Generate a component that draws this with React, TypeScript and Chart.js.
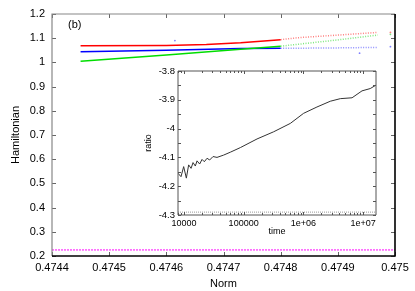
import React, { useEffect, useRef } from 'react';
import { Chart, registerables } from 'chart.js';
Chart.register(...registerables);

const FONT = '"Liberation Sans", Arial, Helvetica, sans-serif';

// ---------- main panel data ----------
const normMin = 0.4744;
const normMax = 0.475;
const hamMin = 0.2;
const hamMax = 1.2;
const panelLabel = '(b)';

const redNorm = [0.47445, 0.4746, 0.47467, 0.47473, 0.4748];
const redHam = [1.069, 1.07, 1.074, 1.081, 1.094];
const redTailNorm = [0.4748, 0.47483, 0.4749, 0.47497];
const redTailHam = [1.094, 1.102, 1.113, 1.124];

const blueNorm = [0.47445, 0.4746, 0.47473, 0.4748];
const blueHam = [1.044, 1.05, 1.057, 1.058];
const blueTailNorm = [0.4748, 0.4749, 0.47497];
const blueTailHam = [1.058, 1.06, 1.062];

const greenNorm = [0.47445, 0.4746, 0.47473, 0.4748];
const greenHam = [1.005, 1.031, 1.054, 1.067];
const greenTailNorm = [0.4748, 0.4749, 0.47497];
const greenTailHam = [1.067, 1.093, 1.113];

const strayNorm = [0.474992, 0.474992, 0.474992, 0.474615, 0.474938];
const strayHam = [1.124, 1.116, 1.065, 1.09, 1.038];
const strayColor = ['rgba(255,0,0,0.5)', 'rgba(0,200,0,0.5)', 'rgba(0,0,255,0.5)', 'rgba(0,0,255,0.5)', 'rgba(0,0,255,0.5)'];

const magentaNorm = [0.4744, 0.475];
const magentaHam = [0.225, 0.225];

// ---------- inset data ----------
const timeMin = 7950;
const timeMax = 1.65e7;
const ratioMin = -4.3;
const ratioMax = -3.8;
const timeTicks = [1e4, 1e5, 1e6, 1e7];
const timeTickLabels = ['10000', '100000', '1e+06', '1e+07'];

const time = [
  7950, 8930, 9890, 10970, 11990, 13160, 14200, 15520, 16570, 18320, 20090, 21960,
  24380, 26930, 30700, 35800, 46200, 59800, 88100, 167600, 318600, 605000, 1.01e6,
  1.69e6, 2.83e6, 4.17e6, 6.55e6, 9.62e6, 1.32e7, 1.65e7,
];
const ratio = [
  -4.155, -4.167, -4.132, -4.172, -4.126, -4.138, -4.118, -4.13, -4.112, -4.123, -4.107, -4.115,
  -4.103, -4.109, -4.097, -4.1, -4.092, -4.082, -4.066, -4.036, -4.011, -3.982, -3.947,
  -3.925, -3.905, -3.896, -3.893, -3.869, -3.861, -3.849,
];
const refTime = [7950, 1.65e7];
const refRatio = [-4.29, -4.29];

const pts = (xs: number[], ys: number[]) => xs.map((x, i) => ({ x, y: ys[i] }));

type FrameOpts = {
  tickLen: number;
  minorLen: number;
  lightColor: string;
  darkColor: string;
  lightWidth: number;
  darkWidth: number;
  tickColor: string;
  logMinor?: boolean;
  label?: string;
};

const makeFramePlugin = (o: FrameOpts) => ({
  id: 'frameTicks',
  afterDraw(chart: any) {
    const { ctx, chartArea } = chart;
    const { left, right, top, bottom } = chartArea;
    const xs = chart.scales.x;
    const ys = chart.scales.y;
    ctx.save();
    ctx.strokeStyle = o.tickColor;
    ctx.lineWidth = 1;
    ctx.beginPath();
    const vline = (px: number, len: number) => {
      const x = Math.round(px) + 0.5;
      ctx.moveTo(x, bottom);
      ctx.lineTo(x, bottom - len);
      ctx.moveTo(x, top);
      ctx.lineTo(x, top + len);
    };
    const hline = (py: number, len: number) => {
      const y = Math.round(py) + 0.5;
      ctx.moveTo(left, y);
      ctx.lineTo(left + len, y);
      ctx.moveTo(right, y);
      ctx.lineTo(right - len, y);
    };
    xs.ticks.forEach((t: any) => vline(xs.getPixelForValue(t.value), o.tickLen));
    ys.ticks.forEach((t: any) => hline(ys.getPixelForValue(t.value), o.tickLen));
    if (o.logMinor) {
      for (let d = 3; d <= 7; d++) {
        for (let m = 2; m <= 9; m++) {
          const v = m * Math.pow(10, d);
          if (v > xs.min && v < xs.max) vline(xs.getPixelForValue(v), o.minorLen);
        }
      }
    }
    ctx.stroke();
    ctx.lineWidth = o.lightWidth;
    ctx.strokeStyle = o.lightColor;
    ctx.beginPath();
    ctx.moveTo(left, bottom);
    ctx.lineTo(left, top);
    ctx.lineTo(right, top);
    ctx.stroke();
    ctx.lineWidth = o.darkWidth;
    ctx.strokeStyle = o.darkColor;
    ctx.beginPath();
    ctx.moveTo(right, top);
    ctx.lineTo(right, bottom);
    ctx.lineTo(left, bottom);
    ctx.stroke();
    if (o.label) {
      ctx.fillStyle = '#000';
      ctx.font = `11px ${FONT}`;
      ctx.textAlign = 'left';
      ctx.textBaseline = 'middle';
      ctx.fillText(o.label, left + 16, top + 11);
    }
    ctx.restore();
  },
});

const fmt1 = (v: number) => String(Math.round(v * 10) / 10);

export default function App() {
  const mainRef = useRef<HTMLCanvasElement>(null);
  const insetRef = useRef<HTMLCanvasElement>(null);

  useEffect(() => {
    document.body.style.margin = '0';
    const lineDs = (data: any[], color: string, width = 1.5, dash: number[] = []) => ({
      data,
      borderColor: color,
      backgroundColor: color,
      borderWidth: width,
      borderDash: dash,
      pointRadius: 0,
      tension: 0,
      fill: false,
    });

    const main = new Chart(mainRef.current!, {
      type: 'line',
      data: {
        datasets: [
          lineDs(pts(magentaNorm, magentaHam), '#ff00ff', 1, [2, 1]),
          lineDs(pts(greenNorm, greenHam), '#00dd00'),
          lineDs(pts(greenTailNorm, greenTailHam), 'rgba(0,210,0,0.5)', 1.5, [1, 1.5]),
          lineDs(pts(blueNorm, blueHam), '#0000ff'),
          lineDs(pts(blueTailNorm, blueTailHam), 'rgba(0,0,255,0.45)', 1.5, [1, 1.5]),
          lineDs(pts(redNorm, redHam), '#ff0000'),
          lineDs(pts(redTailNorm, redTailHam), 'rgba(255,0,0,0.5)', 1.5, [1, 1.5]),
          {
            type: 'scatter',
            data: pts(strayNorm, strayHam),
            pointRadius: 0.9,
            pointBackgroundColor: strayColor,
            pointBorderWidth: 0,
            showLine: false,
          } as any,
        ],
      },
      options: {
        animation: false,
        responsive: false,
        devicePixelRatio: 1,
        layout: { padding: { top: 14, right: 20, left: 0, bottom: 0 } },
        plugins: { legend: { display: false }, tooltip: { enabled: false } },
        scales: {
          x: {
            type: 'linear',
            min: normMin,
            max: normMax,
            border: { display: false },
            grid: { display: false, drawTicks: false },
            ticks: {
              stepSize: 0.0001,
              autoSkip: false,
              maxRotation: 0,
              padding: 5,
              color: '#000',
              font: { family: FONT, size: 11 },
              callback: (v: any) => String(Math.round(Number(v) * 1e4) / 1e4),
            },
            title: {
              display: true,
              text: 'Norm',
              color: '#000',
              font: { family: FONT, size: 11 },
              padding: { top: 0, bottom: 0 },
            },
            afterFit: (s: any) => {
              s.height = 35;
            },
          },
          y: {
            type: 'linear',
            min: hamMin,
            max: hamMax,
            border: { display: false },
            grid: { display: false, drawTicks: false },
            ticks: {
              stepSize: 0.1,
              autoSkip: false,
              padding: 7,
              color: '#000',
              font: { family: FONT, size: 11 },
              callback: (v: any) => fmt1(Number(v)),
            },
            title: {
              display: true,
              text: 'Hamiltonian',
              color: '#000',
              font: { family: FONT, size: 11 },
              padding: { top: 9, bottom: 0 },
            },
            afterFit: (s: any) => {
              s.width = 52;
            },
          },
        },
      },
      plugins: [
        makeFramePlugin({
          tickLen: 4,
          minorLen: 2,
          lightColor: '#888',
          darkColor: '#000',
          lightWidth: 1.2,
          darkWidth: 1.6,
          tickColor: '#666',
          label: panelLabel,
        }),
      ],
    } as any);

    const inset = new Chart(insetRef.current!, {
      type: 'line',
      data: {
        datasets: [
          lineDs(pts(refTime, refRatio), '#999', 1, [1, 1]),
          lineDs(pts(time, ratio), '#333', 1),
        ],
      },
      options: {
        animation: false,
        responsive: false,
        devicePixelRatio: 1,
        layout: { padding: { top: 9, right: 9, left: 0, bottom: 0 } },
        plugins: { legend: { display: false }, tooltip: { enabled: false } },
        scales: {
          x: {
            type: 'logarithmic',
            min: timeMin,
            max: timeMax,
            border: { display: false },
            grid: { display: false, drawTicks: false },
            afterBuildTicks: (s: any) => {
              s.ticks = timeTicks.map((v) => ({ value: v }));
            },
            ticks: {
              autoSkip: false,
              maxRotation: 0,
              padding: 3,
              color: '#000',
              font: { family: FONT, size: 9 },
              callback: (v: any) => {
                const i = timeTicks.indexOf(Number(v));
                return i >= 0 ? timeTickLabels[i] : '';
              },
            },
            title: {
              display: true,
              text: 'time',
              color: '#000',
              font: { family: FONT, size: 9 },
              padding: { top: 0, bottom: 5 },
            },
            afterFit: (s: any) => {
              s.height = 27;
            },
          },
          y: {
            type: 'linear',
            min: ratioMin,
            max: ratioMax,
            border: { display: false },
            grid: { display: false, drawTicks: false },
            ticks: {
              stepSize: 0.05,
              autoSkip: false,
              padding: 3,
              color: '#000',
              font: { family: FONT, size: 9.5 },
              callback: (v: any) => {
                const n = Number(v) * 10;
                return Math.abs(n - Math.round(n)) < 1e-6 ? fmt1(Number(v)) : '';
              },
            },
            title: {
              display: true,
              text: 'ratio',
              color: '#000',
              font: { family: FONT, size: 9 },
              padding: { top: 3, bottom: 0 },
            },
            afterFit: (s: any) => {
              s.width = 38;
            },
          },
        },
      },
      plugins: [
        makeFramePlugin({
          tickLen: 3,
          minorLen: 2,
          lightColor: '#555',
          darkColor: '#555',
          lightWidth: 1,
          darkWidth: 1,
          tickColor: '#555',
          logMinor: true,
        }),
      ],
    } as any);

    return () => {
      main.destroy();
      inset.destroy();
    };
  }, []);

  return (
    <div style={{ position: 'relative', width: 415, height: 291, background: '#fff' }}>
      <canvas ref={mainRef} width={415} height={291} style={{ position: 'absolute', left: 0, top: 0 }} />
      <canvas ref={insetRef} width={245} height={180} style={{ position: 'absolute', left: 140, top: 62 }} />
    </div>
  );
}
